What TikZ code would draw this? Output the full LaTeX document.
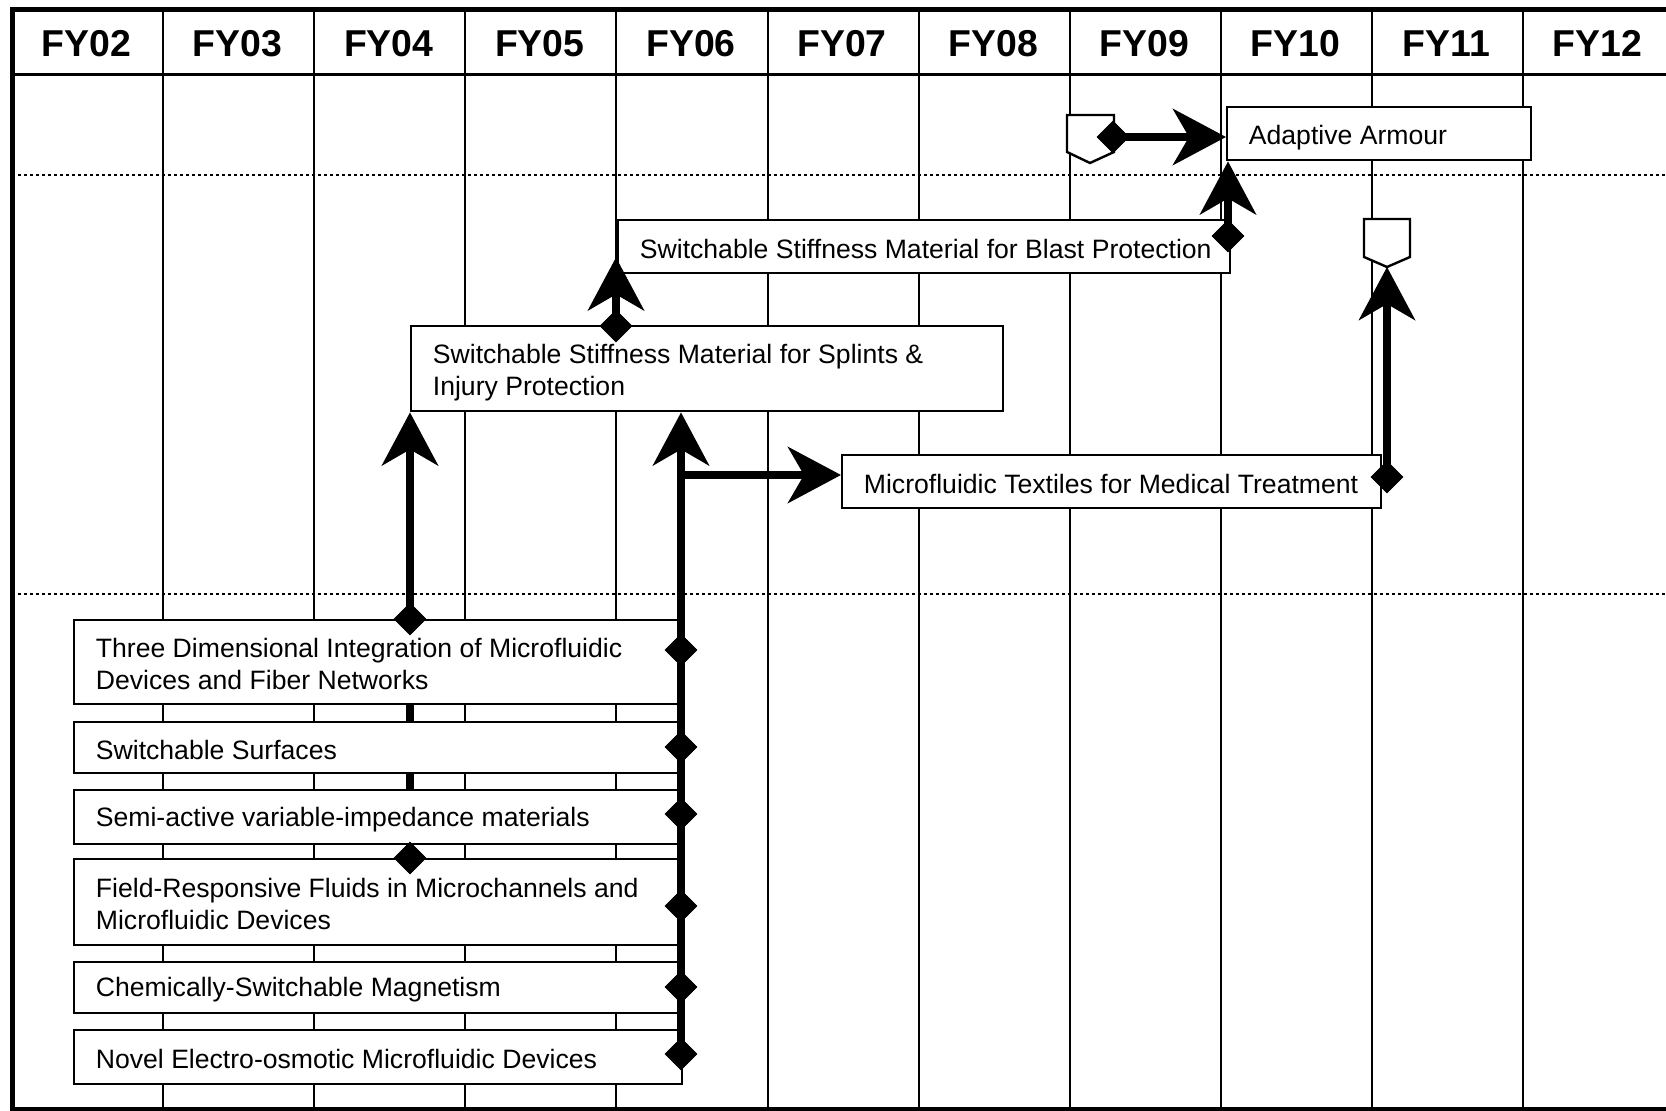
\documentclass[tikz,border=0pt]{standalone}
\usepackage{fontspec}
\setmainfont{Liberation Sans}
\usetikzlibrary{arrows.meta,shapes.geometric}
\pgfdeclarelayer{grid}
\pgfsetlayers{grid,main}

\begin{document}
\begin{tikzpicture}[x=0.5pt,y=-0.5pt,
  box/.style={draw, fill=white, line width=1.2pt, inner sep=0pt, anchor=north west},
  txt/.style={anchor=west, align=left, inner sep=0pt, yshift=-1pt, font=\fontsize{13.3}{16.2}\selectfont},
  hdr/.style={inner sep=0pt, font=\bfseries\fontsize{18.7}{20}\selectfont},
  dia/.style={diamond, fill=black, inner sep=0pt, minimum width=16pt, minimum height=16pt},
  link/.style={line width=4pt, -{Stealth[length=26.5pt,width=28pt,inset=8pt]}},
  colline/.style={line width=1pt},
  sep/.style={line width=1pt, dash pattern=on 1.5pt off 1.5pt},
  tag/.style={draw, fill=white, line width=1.2pt, line join=miter},
]
\clip (0,0) rectangle (1666,1111);

% ---- task boxes ----
\node[box, minimum width=152pt, minimum height=26.5pt] (aa) at (1226,106) {};
\node[txt, yshift=-1pt] (taa) at ([xshift=11.25pt]aa.west) {Adaptive Armour};

\node[box, minimum width=306pt, minimum height=26.5pt] (blast) at (617,219) {};
\node[txt] (tblast) at ([xshift=11.25pt]blast.west) {Switchable Stiffness Material for Blast Protection};

\node[box, minimum width=296pt, minimum height=42.5pt] (splints) at (410,325) {};
\node[txt, yshift=-1pt] (tsplints) at ([xshift=11.25pt]splints.west) {Switchable Stiffness Material for Splints \&\\Injury Protection};

\node[box, minimum width=269.5pt, minimum height=26.5pt] (mtex) at (841,454) {};
\node[txt] (tmtex) at ([xshift=11.25pt]mtex.west) {Microfluidic Textiles for Medical Treatment};

\node[box, minimum width=304pt, minimum height=42pt] (b1) at (73,619) {};
\node[txt] (tb1) at ([xshift=11.25pt]b1.west) {Three Dimensional Integration of Microfluidic\\Devices and Fiber Networks};
\node[box, minimum width=304pt, minimum height=25.5pt] (b2) at (73,721) {};
\node[txt] (tb2) at ([xshift=11.25pt]b2.west) {Switchable Surfaces};
\node[box, minimum width=304pt, minimum height=27pt] (b3) at (73,789) {};
\node[txt] (tb3) at ([xshift=11.25pt]b3.west) {Semi-active variable-impedance materials};
\node[box, minimum width=304pt, minimum height=43pt] (b4) at (73,858) {};
\node[txt] (tb4) at ([xshift=11.25pt]b4.west) {Field-Responsive Fluids in Microchannels and\\Microfluidic Devices};
\node[box, minimum width=304pt, minimum height=25.5pt] (b5) at (73,961) {};
\node[txt] (tb5) at ([xshift=11.25pt]b5.west) {Chemically-Switchable Magnetism};
\node[box, minimum width=304pt, minimum height=27pt] (b6) at (73,1029) {};
\node[txt] (tb6) at ([xshift=11.25pt]b6.west) {Novel Electro-osmotic Microfluidic Devices};

% ---- off-page tags ----
\draw[tag] (1067,115) -- (1114,115) -- (1114,152) -- (1090,163) -- (1067,152) -- cycle;
\draw[tag] (1364,219) -- (1410,219) -- (1410,257) -- (1387,267) -- (1364,257) -- cycle;
\coordinate (p2tip) at (1387,267);

% ---- grid ----
\begin{pgfonlayer}{grid}
  \foreach \k in {1,...,10}
    \draw[colline] ({12+151.1*\k},10) -- ({12+151.1*\k},1109);
  \draw[line width=1.3pt] (12,74.5) -- (1666,74.5);
  \draw[sep] (12,175.5) -- (1666,175.5);
  \draw[sep] (12,594.5) -- (1666,594.5);
\end{pgfonlayer}
\foreach \lab [count=\k from 0] in {FY02,FY03,FY04,FY05,FY06,FY07,FY08,FY09,FY10,FY11,FY12}
  \node[hdr] (h\k) at ({86.5+151.1*\k},43.5) {\lab};

% ---- diamonds ----
\node[dia] (d1) at (1113,137) {};
\node[dia] (dbl) at (1228,236) {};
\node[dia] (dsp) at (616,326) {};
\node[dia] (dmt) at (1387,477) {};
\node[dia] (la) at (410,619) {};
\node[dia] (lb) at (410,858) {};
\node[dia] (r1) at (681,650) {};
\node[dia] (r2) at (681,747) {};
\node[dia] (r3) at (681,814) {};
\node[dia] (r4) at (681,906) {};
\node[dia] (r5) at (681,987) {};
\node[dia] (r6) at (681,1054) {};
\coordinate (fork) at (681,475);

% ---- connectors ----
\begin{pgfonlayer}{grid}
  \draw[link] (lb.center) -- (lb.center |- splints.south);
\end{pgfonlayer}
\draw[link] (r6.center) -- (r6.center |- splints.south);
\draw[link] (fork) -- (fork -| mtex.west);
\draw[link] (d1.center) -- (d1.center -| aa.west);
\draw[link] (dbl.center) -- (dbl.center |- aa.south);
\draw[link, shorten >=-8.5pt] (dsp.center) -- (dsp.center |- blast.south);
\draw[link] (dmt.center) -- (p2tip);

% redraw diamonds over the connector shafts
\foreach \n in {d1,dbl,dsp,dmt,la,lb,r1,r2,r3,r4,r5,r6}
  \fill (\n.north) -- (\n.east) -- (\n.south) -- (\n.west) -- cycle;

% ---- frame ----
\draw[line width=2.5pt] (1700,10) -- (12,10) -- (12,1109) -- (1700,1109);
\end{tikzpicture}
\end{document}
